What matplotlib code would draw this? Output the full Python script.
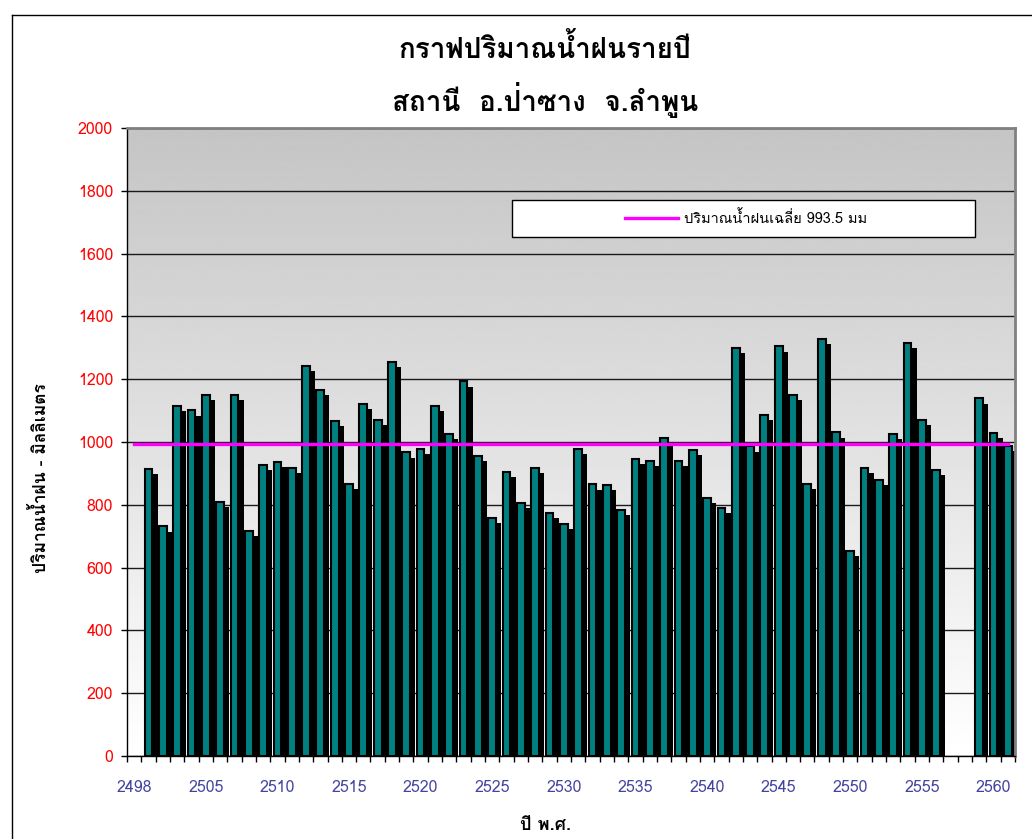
import numpy as np
import matplotlib
matplotlib.use('Agg')
import matplotlib.pyplot as plt
from matplotlib import font_manager
from matplotlib.ft2font import FT2Font
import matplotlib.patheffects as pe
from matplotlib.patches import Rectangle
from matplotlib.lines import Line2D

# ---------------- data ----------------
nan = np.nan
categories = list(range(2500, 2562))  # 62 category slots
rainfall = [nan, 915, 731, 1116, 1101, 1149, 809, 1149, 718, 927, 937, 918,
            1243, 1166, 1067, 867, 1121, 1070, 1256, 967, 977, 1116, 1027,
            1193, 955, 758, 904, 807, 917, 775, 739, 979, 865, 864, 784, 947,
            939, 1014, 939, 974, 823, 791, 1299, 986, 1087, 1305, 1151, 867,
            1328, 1031, 654, 918, 880, 1027, 1316, 1070, 912, nan, nan, 1139,
            1030, 987]
mean_rain = 993.5
tick_positions = [0, 5, 10, 15, 20, 25, 30, 35, 40, 45, 50, 55, 60]
tick_labels = ['2498', '2505', '2510', '2515', '2520', '2525', '2530',
               '2535', '2540', '2545', '2550', '2555', '2560']
y_ticks = [0, 200, 400, 600, 800, 1000, 1200, 1400, 1600, 1800, 2000]

title1 = 'กราฟปริมาณน้ำฝนรายปี'
title2 = 'สถานี  อ.ป่าซาง  จ.ลำพูน'
ylabel = 'ปริมาณน้ำฝน - มิลลิเมตร'
xlabel = 'ปี พ.ศ.'
legend_label = 'ปริมาณน้ำฝนเฉลี่ย 993.5 มม'


# ---------------- font with Thai glyphs ----------------
def find_thai_font():
    prefs = ['Tahoma', 'Loma', 'Garuda', 'Noto Sans Thai', 'Noto Sans Thai UI',
             'Sarabun', 'Waree', 'Umpush', 'Norasi', 'Kinnari', 'Laksaman',
             'Sawasdee', 'TlwgTypo', 'Purisa']
    found = {}
    seen = set()
    for fe in font_manager.fontManager.ttflist:
        if fe.fname in seen or 'CJK' in fe.name:
            continue
        seen.add(fe.fname)
        try:
            cm = FT2Font(fe.fname).get_charmap()
        except Exception:
            continue
        if 0x0E01 in cm and 0x0E33 in cm:
            found.setdefault(fe.name, fe.fname)
    for p in prefs:
        if p in found:
            return p
    if found:
        return sorted(found)[0]
    return None


thai = find_thai_font()
families = ([thai] if thai else []) + ['DejaVu Sans']
plt.rcParams['font.family'] = families

W, H = 1032, 839
fig = plt.figure(figsize=(W / 100, H / 100), dpi=100)
fig.patch.set_facecolor('white')

ax_left, ax_right, ax_top, ax_bottom = 127, 1015, 128, 756
ax = fig.add_axes([ax_left / W, 1 - ax_bottom / H,
                   (ax_right - ax_left) / W, (ax_bottom - ax_top) / H])

# gradient background
grad = np.linspace(1.0, 0.77, 256).reshape(-1, 1)
ax.imshow(grad, extent=[0, 1, 0, 1], transform=ax.transAxes, aspect='auto',
          cmap='gray', vmin=0, vmax=1, origin='lower', zorder=-5)

x = np.arange(len(categories))
ax.set_xlim(-0.5, len(categories) - 0.5)
ax.set_ylim(0, 2000)

ax.set_axisbelow(True)
ax.yaxis.grid(True, color='#1a1a1a', linewidth=1.0)

ax.bar(x, rainfall, width=0.54, color='#008080', edgecolor='black',
       linewidth=1.5, zorder=2,
       path_effects=[pe.SimplePatchShadow(offset=(3.8, -3.8),
                                          shadow_rgbFace='black', alpha=1.0),
                     pe.Normal()])

line, = ax.plot(x, [mean_rain] * len(x), color='#FF00FF', linewidth=2.4,
                zorder=3, label=legend_label)

# ticks
ax.set_yticks(y_ticks)
ax.set_yticklabels([str(v) for v in y_ticks])
ax.tick_params(axis='y', colors='black', labelcolor='#FF0000', labelsize=11.5,
               direction='out', length=4, width=1, pad=6)
ax.set_xticks(tick_positions)
ax.set_xticklabels(tick_labels)
ax.set_xticks(np.arange(-0.5, len(categories), 1.0), minor=True)
ax.tick_params(axis='x', which='major', length=0, labelcolor='#4444A0',
               labelsize=11.5, pad=17)
ax.tick_params(axis='x', which='minor', direction='out', length=4, width=1,
               color='black')

for s in ['left', 'bottom']:
    ax.spines[s].set_color('black')
    ax.spines[s].set_linewidth(1.0)
for s in ['top', 'right']:
    ax.spines[s].set_color('#808080')
    ax.spines[s].set_linewidth(2.0)

# legend box
lx0, lx1 = (512 - ax_left) / (ax_right - ax_left), (975 - ax_left) / (ax_right - ax_left)
ly1, ly0 = (ax_bottom - 200) / (ax_bottom - ax_top), (ax_bottom - 237) / (ax_bottom - ax_top)
ax.add_patch(Rectangle((lx0, ly0), lx1 - lx0, ly1 - ly0, transform=ax.transAxes,
                       facecolor='white', edgecolor='black', linewidth=1.0,
                       zorder=4))
leg = ax.legend(handles=[line], loc='center',
                bbox_to_anchor=((lx0 + lx1) / 2 + 0.003, (ly0 + ly1) / 2),
                frameon=False, fontsize=10.5, handlelength=3.6,
                handletextpad=0.4)
leg.set_zorder(5)

# titles and labels
fig.text(545 / W, 1 - 48 / H, title1, ha='center', va='center',
         fontsize=20, fontweight='bold')
fig.text(545 / W, 1 - 100 / H, title2, ha='center', va='center',
         fontsize=20, fontweight='bold')
fig.text(40 / W, 1 - 478 / H, ylabel, ha='center', va='center', rotation=90,
         fontsize=12.5, fontweight='bold')
fig.text(545 / W, 1 - 825 / H, xlabel, ha='center', va='center',
         fontsize=13, fontweight='bold')

# chart area border
fig.add_artist(Line2D([12 / W, 12 / W], [0, 1 - 15 / H], transform=fig.transFigure,
                      color='black', linewidth=1.0))
fig.add_artist(Line2D([12 / W, 1], [1 - 15 / H, 1 - 15 / H], transform=fig.transFigure,
                      color='black', linewidth=1.0))

fig.savefig('out.png', dpi=100, facecolor='white')
